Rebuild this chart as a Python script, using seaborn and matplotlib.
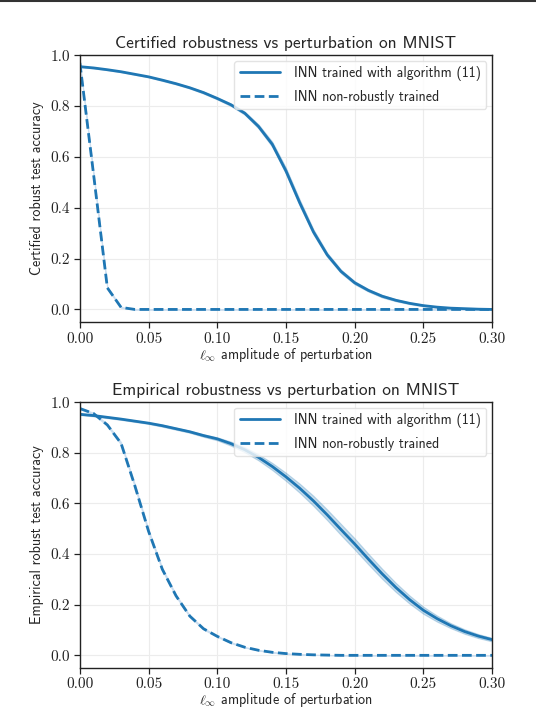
import numpy as np
import pandas as pd
import matplotlib
matplotlib.use("Agg")
import matplotlib.pyplot as plt
from matplotlib.lines import Line2D
import seaborn as sns

eps = [0.00, 0.01, 0.02, 0.03, 0.04, 0.05, 0.06, 0.07, 0.08, 0.09, 0.10,
       0.11, 0.12, 0.13, 0.14, 0.15, 0.16, 0.17, 0.18, 0.19, 0.20,
       0.21, 0.22, 0.23, 0.24, 0.25, 0.26, 0.27, 0.28, 0.29, 0.30]

cert_robust = [0.955, 0.950, 0.943, 0.935, 0.925, 0.915, 0.902, 0.888, 0.872, 0.853, 0.830,
               0.805, 0.772, 0.720, 0.650, 0.545, 0.420, 0.305, 0.215, 0.150, 0.105,
               0.075, 0.052, 0.036, 0.024, 0.015, 0.009, 0.005, 0.003, 0.001, 0.000]
cert_robust_band = [0.002, 0.002, 0.002, 0.002, 0.002, 0.002, 0.003, 0.003, 0.003, 0.004, 0.004,
                    0.005, 0.006, 0.008, 0.010, 0.012, 0.012, 0.010, 0.008, 0.007, 0.006,
                    0.005, 0.005, 0.004, 0.003, 0.003, 0.002, 0.002, 0.001, 0.001, 0.001]
cert_plain = [0.970, 0.530, 0.085, 0.008, 0.000, 0.000, 0.000, 0.000, 0.000, 0.000, 0.000,
              0.000, 0.000, 0.000, 0.000, 0.000, 0.000, 0.000, 0.000, 0.000, 0.000,
              0.000, 0.000, 0.000, 0.000, 0.000, 0.000, 0.000, 0.000, 0.000, 0.000]
cert_plain_band = [0.004, 0.006, 0.004, 0.002, 0.000, 0.000, 0.000, 0.000, 0.000, 0.000, 0.000,
                   0.000, 0.000, 0.000, 0.000, 0.000, 0.000, 0.000, 0.000, 0.000, 0.000,
                   0.000, 0.000, 0.000, 0.000, 0.000, 0.000, 0.000, 0.000, 0.000, 0.000]

emp_robust = [0.952, 0.947, 0.940, 0.933, 0.925, 0.917, 0.907, 0.895, 0.883, 0.868, 0.855,
              0.836, 0.812, 0.782, 0.746, 0.705, 0.660, 0.610, 0.555, 0.497, 0.440,
              0.380, 0.322, 0.268, 0.220, 0.178, 0.145, 0.117, 0.094, 0.076, 0.062]
emp_robust_band = [0.003, 0.003, 0.003, 0.003, 0.003, 0.003, 0.004, 0.004, 0.004, 0.005, 0.006,
                   0.008, 0.010, 0.012, 0.014, 0.016, 0.018, 0.020, 0.021, 0.022, 0.022,
                   0.021, 0.020, 0.018, 0.016, 0.014, 0.012, 0.010, 0.009, 0.008, 0.007]
emp_plain = [0.975, 0.955, 0.910, 0.837, 0.670, 0.490, 0.340, 0.235, 0.155, 0.105, 0.075,
             0.050, 0.032, 0.020, 0.012, 0.007, 0.004, 0.002, 0.001, 0.000, 0.000,
             0.000, 0.000, 0.000, 0.000, 0.000, 0.000, 0.000, 0.000, 0.000, 0.000]
emp_plain_band = [0.003, 0.003, 0.004, 0.005, 0.006, 0.006, 0.005, 0.004, 0.003, 0.003, 0.002,
                  0.002, 0.001, 0.001, 0.001, 0.001, 0.000, 0.000, 0.000, 0.000, 0.000,
                  0.000, 0.000, 0.000, 0.000, 0.000, 0.000, 0.000, 0.000, 0.000, 0.000]

labels = ["INN trained with algorithm (11)", "INN non-robustly trained"]
titles = ["Certified robustness vs perturbation on MNIST",
          "Empirical robustness vs perturbation on MNIST"]
ylabels = ["Certified robust test accuracy", "Empirical robust test accuracy"]
xlabel = r"$\ell_\infty$ amplitude of perturbation"
xticks = [0.00, 0.05, 0.10, 0.15, 0.20, 0.25, 0.30]
yticks = [0.0, 0.2, 0.4, 0.6, 0.8, 1.0]

sns.set_style("ticks")
plt.rcParams["font.family"] = ["cmss10", "DejaVu Sans"]
plt.rcParams["mathtext.fontset"] = "cm"
plt.rcParams["axes.formatter.use_mathtext"] = True

color = "#1f77b4"
fig = plt.figure(figsize=(5.36, 7.08), dpi=100)
ax1 = fig.add_axes([0.149, 0.545, 0.769, 0.377])
ax2 = fig.add_axes([0.149, 0.0565, 0.769, 0.3755])

panels = [
    (ax1, cert_robust, cert_robust_band, cert_plain, cert_plain_band),
    (ax2, emp_robust, emp_robust_band, emp_plain, emp_plain_band),
]

for i, (ax, rob, rob_b, pla, pla_b) in enumerate(panels):
    df = pd.DataFrame({
        "eps": eps * 2,
        "acc": rob + pla,
        "model": [labels[0]] * len(eps) + [labels[1]] * len(eps),
    })
    rob_a = np.array(rob); rob_ba = np.array(rob_b)
    pla_a = np.array(pla); pla_ba = np.array(pla_b)
    ax.fill_between(eps, rob_a - rob_ba, rob_a + rob_ba, color=color, alpha=0.25, lw=0.8)
    ax.fill_between(eps, pla_a - pla_ba, pla_a + pla_ba, color="#c6dbef", alpha=0.8, lw=0.8)
    sns.lineplot(data=df, x="eps", y="acc", style="model", color=color, lw=2,
                 dashes={labels[0]: "", labels[1]: (3.5, 1.6)}, ax=ax, legend=True)
    ax.set_xlim(0, 0.30)
    ax.set_ylim(-0.05, 1.0)
    ax.set_xticks(xticks)
    ax.set_yticks(yticks)
    ax.set_xticklabels([f"{t:.2f}" for t in xticks], fontfamily="cmr10", fontsize=11)
    ax.set_yticklabels([f"{t:.1f}" for t in yticks], fontfamily="cmr10", fontsize=11)
    ax.grid(True, color="#ececec", lw=0.8)
    ax.set_axisbelow(True)
    ax.set_title(titles[i], fontsize=12.5, pad=5)
    ax.set_xlabel(xlabel, fontsize=10.2, labelpad=0)
    ax.set_ylabel(ylabels[i], fontsize=10.2, labelpad=5)
    for s in ax.spines.values():
        s.set_color("#222222")
        s.set_linewidth(1.0)
    ax.tick_params(length=4, width=0.9, colors="#222222", pad=3)
    leg = ax.legend(loc="upper right", fontsize=10, frameon=True, handlelength=2.9,
                    borderaxespad=0.4, handletextpad=1.0, labelspacing=0.6)
    leg.get_frame().set_edgecolor("#dddddd")
    leg.get_frame().set_alpha(0.8)
    for h in leg.get_lines():
        h.set_linewidth(2)

fig.add_artist(Line2D([0, 1], [0.999, 0.999], transform=fig.transFigure,
                      color="#333333", lw=1.5))
fig.savefig("out.png", dpi=100)
